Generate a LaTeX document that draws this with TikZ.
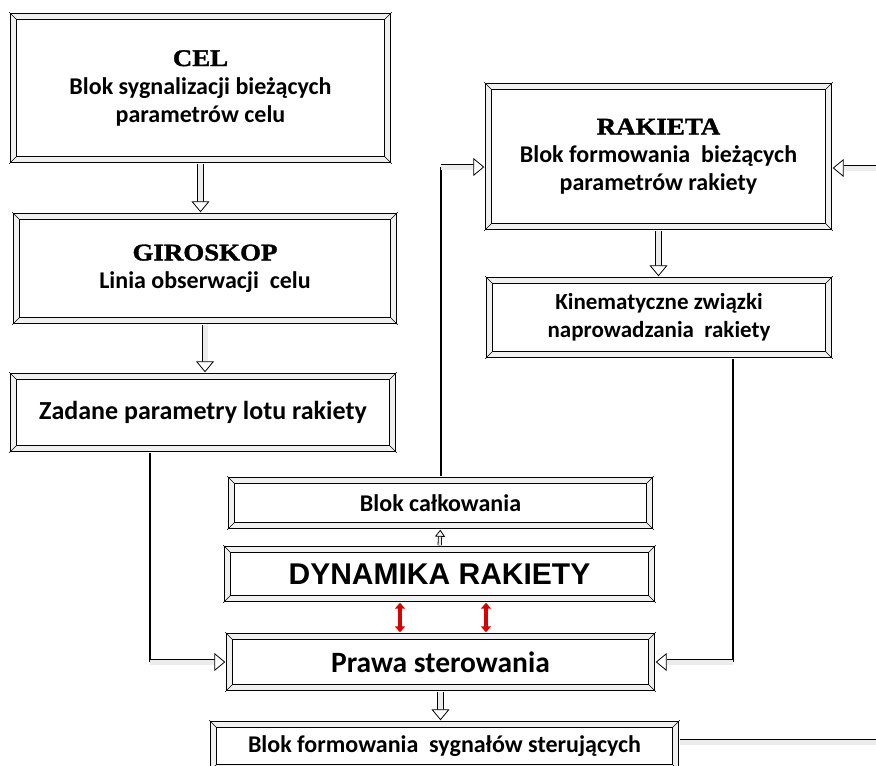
\documentclass[tikz,border=0pt]{standalone}
\usepackage{fontspec}
\setmainfont{Carlito}
\newfontfamily\titlefont[FakeStretch=1.12, FakeBold=1.5]{Liberation Serif}
\newfontfamily\arialfont{Liberation Sans}
\usetikzlibrary{arrows.meta}
\newcommand{\bodysize}{\fontsize{24}{28}\selectfont}
\newcommand{\titlesize}{\fontsize{24}{30}\selectfont}

\begin{document}
\begin{tikzpicture}[x=1pt, y=-1pt,
    every text node part/.style={align=center},
    frame/.style={draw, line width=1.2pt, double=gray!12, double distance=5pt,
        inner sep=0pt, font=\bfseries\bodysize},
    hollow/.style={draw, line width=0.8pt, double=gray!15, double distance=5pt,
        shorten >=3.6pt, shorten <=3.6pt,
        -{Triangle[open, length=11pt, width=18pt, line width=0.8pt, fill=white]}},
    twin/.style={draw, line width=0.8pt, double=gray!15, double distance=5pt},
    link/.style={draw, line width=1.4pt},
    redarr/.style={draw=red!85!black, line width=3.5pt, shorten >=3.6pt, shorten <=3.6pt,
        {Triangle[length=6pt, width=10pt]}-{Triangle[length=6pt, width=10pt]}}]
    \useasboundingbox[fill=white] (0, 0) rectangle (876, 766);

    \coordinate (lbend) at (150, 0);
    \coordinate (rbend) at (733, 0);
    \coordinate (mbend) at (441, 167);
    \coordinate (rin) at (876, 168);
    \coordinate (sout) at (876, 742);
    \coordinate (r1) at (400, 0);
    \coordinate (r2) at (486, 0);

    \node[frame, minimum width=374, minimum height=143] (cel) at (200.5, 88)
        {{\titlefont\titlesize CEL}\\Blok sygnalizacji bieżących\\parametrów celu};
    \node[frame, minimum width=377, minimum height=104] (giro) at (205, 268.5)
        {{\titlefont\titlesize GIROSKOP}\\Linia obserwacji\ \ celu};
    \node[frame, minimum width=379, minimum height=72, font=\bfseries\fontsize{26}{30}\selectfont]
        (zadane) at (203, 412.5) {Zadane parametry lotu rakiety};
    \node[frame, minimum width=340, minimum height=140] (rakieta) at (658.5, 156.5)
        {{\titlefont\titlesize RAKIETA}\\Blok formowania\ \ bieżących\\parametrów rakiety};
    \node[frame, minimum width=339, minimum height=74, font=\bfseries\fontsize{23}{28}\selectfont]
        (kinem) at (659, 317.5) {Kinematyczne związki\\naprowadzania\ \ rakiety};
    \node[frame, minimum width=418, minimum height=45] (calk) at (440.5, 503)
        {Blok całkowania};
    \node[frame, minimum width=424, minimum height=49, font=\arialfont\bfseries\fontsize{30}{32}\selectfont]
        (dyn) at (439.5, 574) {DYNAMIKA RAKIETY};
    \node[frame, minimum width=422, minimum height=51, font=\bfseries\fontsize{29.5}{32}\selectfont]
        (prawa) at (440.5, 662) {Prawa sterowania};
    \node[frame, minimum width=462, minimum height=43] (sygn) at (444.5, 746)
        {Blok formowania\ \ sygnałów sterujących};

    % bevelled corners of the frames
    \foreach \n in {cel, giro, zadane, rakieta, kinem, calk, dyn, prawa, sygn} {
        \draw[line width=0.4pt] ([shift={(-3.7pt,3.7pt)}]\n.north west) -- ([shift={(3.7pt,-3.7pt)}]\n.north west);
        \draw[line width=0.4pt] ([shift={(3.7pt,3.7pt)}]\n.north east) -- ([shift={(-3.7pt,-3.7pt)}]\n.north east);
        \draw[line width=0.4pt] ([shift={(-3.7pt,-3.7pt)}]\n.south west) -- ([shift={(3.7pt,3.7pt)}]\n.south west);
        \draw[line width=0.4pt] ([shift={(3.7pt,-3.7pt)}]\n.south east) -- ([shift={(-3.7pt,3.7pt)}]\n.south east);
    }

    \draw[hollow] (cel.south) -- (cel.south |- giro.north);
    \draw[hollow] (giro.south) -- (giro.south |- zadane.north);
    \draw[hollow] (rakieta.south) -- (rakieta.south |- kinem.north);
    \draw[hollow, double distance=2.5pt, -{Triangle[open, length=7pt, width=10pt, line width=0.8pt, fill=white]}]
        (dyn.north) -- (calk.south);
    \draw[hollow] (prawa.south) -- (prawa.south |- sygn.north);

    \draw[link] ([yshift=-3.6pt]lbend |- zadane.south) -- (lbend |- prawa.west);
    \draw[hollow, shorten <=0pt] (lbend |- prawa.west) -- (prawa.west);
    \draw[link] ([yshift=-3.6pt]rbend |- kinem.south) -- (rbend |- prawa.east);
    \draw[hollow, shorten <=0pt] (rbend |- prawa.east) -- (prawa.east);
    \draw[link] ([yshift=3.6pt]mbend |- calk.north) -- (mbend);
    \draw[hollow, shorten <=0pt] (mbend) -- (mbend -| rakieta.west);
    \draw[hollow, shorten <=0pt] (rin) -- (rin -| rakieta.east);
    \draw[twin] ([xshift=3.6pt]sout -| sygn.east) -- (sout);

    \draw[redarr] (r1 |- dyn.south) -- (r1 |- prawa.north);
    \draw[redarr] (r2 |- dyn.south) -- (r2 |- prawa.north);
\end{tikzpicture}
\end{document}
